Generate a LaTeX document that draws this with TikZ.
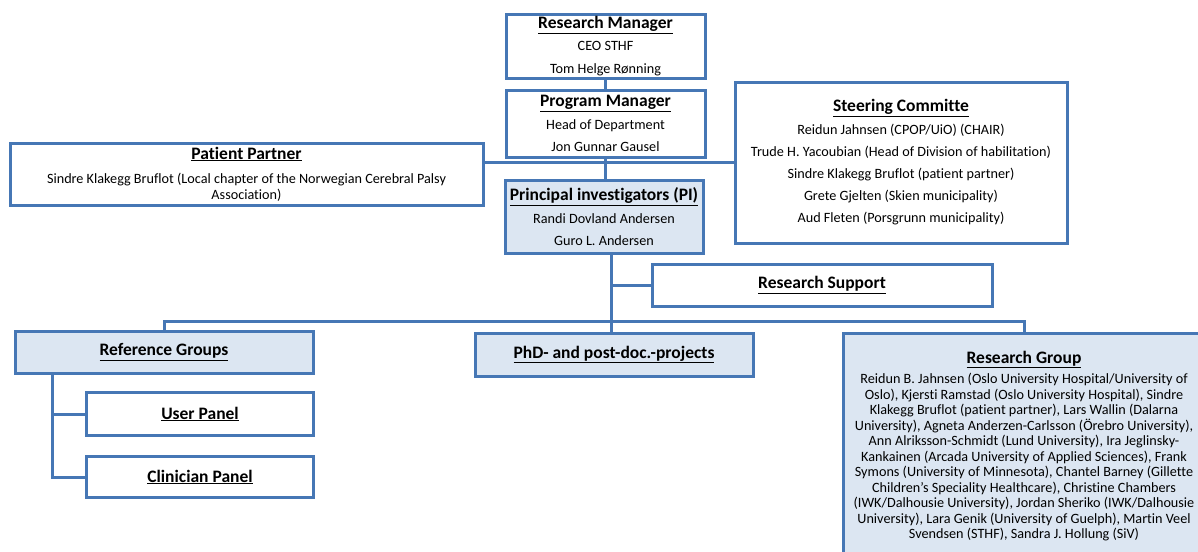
\documentclass[tikz,border=0pt]{standalone}
\usepackage{fontspec}
\setmainfont{Carlito}[Ligatures=NoCommon]
\definecolor{orgline}{HTML}{4677B5}
\definecolor{orgfill}{HTML}{DCE6F2}
\newcommand{\boxtitle}[1]{{\fontsize{17.5}{20}\selectfont\bfseries\underline{#1}}}
\tikzset{
  box/.style={draw=orgline, line width=3pt, fill=white, inner sep=0pt,
    align=center, font=\fontsize{14.2}{16}\selectfont},
  bluebox/.style={box, fill=orgfill},
  link/.style={draw=orgline, line width=3pt}
}
\begin{document}
\begin{tikzpicture}[x=1pt, y=-1pt]
    \useasboundingbox (0,0) rectangle (1198,551);

    % Draw management boxes
    \node[box, minimum width=199, minimum height=63] (rm) at (605.5,46.5)
      {\boxtitle{Research Manager}\\[6pt] CEO STHF\\[7pt] Tom Helge Rønning};
    \node[box, minimum width=199, minimum height=67] (pm) at (605.5,123.5)
      {\boxtitle{Program Manager}\\[7pt] Head of Department\\[6.5pt] Jon Gunnar Gausel};
    \node[box, minimum width=473, minimum height=62] (pp) at (246.5,174)
      {\boxtitle{Patient Partner}\\[8pt] Sindre Klakegg Bruflot (Local chapter of the Norwegian Cerebral Palsy\\[0pt] Association)};
    \node[box, minimum width=332, minimum height=161] (sc) at (901,162.5)
      {\boxtitle{Steering Committe}\\[7pt] Reidun Jahnsen (CPOP/UiO) (CHAIR)\\[6pt]
       Trude H. Yacoubian (Head of Division of habilitation)\\[6pt]
       Sindre Klakegg Bruflot (patient partner)\\[6pt]
       Grete Gjelten (Skien municipality)\\[6pt]
       Aud Fleten (Porsgrunn municipality)};
    \node[bluebox, minimum width=198, minimum height=73] (pi) at (604,216.5)
      {\boxtitle{Principal investigators (PI)}\\[7pt] Randi Dovland Andersen\\[6pt] Guro L. Andersen};
    \node[box, minimum width=340, minimum height=42] (rs) at (822,285) {\boxtitle{Research Support}};

    % Draw group boxes
    \node[bluebox, minimum width=298, minimum height=42] (rg) at (164,352) {\boxtitle{Reference Groups}};
    \node[box, minimum width=227, minimum height=43] (up) at (200,414) {\boxtitle{User Panel}};
    \node[box, minimum width=227, minimum height=41] (cp) at (200,477) {\boxtitle{Clinician Panel}};
    \node[bluebox, minimum width=278, minimum height=43] (phd) at (614,354.5) {\boxtitle{PhD- and post-doc.-projects}};
    \node[bluebox, minimum width=362, minimum height=226, font=\fontsize{14.2}{15.5}\selectfont] (resg) at (1024,446)
      {\boxtitle{Research Group}\\[5pt]
       Reidun B. Jahnsen (Oslo University Hospital/University of\\
       Oslo), Kjersti Ramstad (Oslo University Hospital), Sindre\\
       Klakegg Bruflot (patient partner), Lars Wallin (Dalarna\\
       University), Agneta Anderzen-Carlsson (Örebro University),\\
       Ann Alriksson-Schmidt (Lund University), Ira Jeglinsky-\\
       Kankainen (Arcada University of Applied Sciences), Frank\\
       Symons (University of Minnesota), Chantel Barney (Gillette\\
       Children’s Speciality Healthcare), Christine Chambers\\
       (IWK/Dalhousie University), Jordan Sheriko (IWK/Dalhousie\\
       University), Lara Genik (University of Guelph), Martin Veel\\
       Svendsen (STHF), Sandra J. Hollung (SiV)};

    % Draw connectors
    \coordinate (bus) at (611,321);
    \coordinate (spine) at (52,373);
    \draw[link] (rm.south) -- (pm.north);
    \draw[link] (pm.south) -- (pm.south |- pi.north);
    \draw[link] (pp.east |- sc.west) -- (sc.west);
    \draw[link] (pi.south -| bus) -- (bus |- phd.north);
    \draw[link] (rs.west) -- (rs.west -| bus);
    \draw[link] (rg.north) -- (rg.north |- bus) -- (resg.north |- bus) -- (resg.north);
    \draw[link] (spine) |- (cp.west);
    \draw[link] (up.west) -- (up.west -| spine);
\end{tikzpicture}
\end{document}
